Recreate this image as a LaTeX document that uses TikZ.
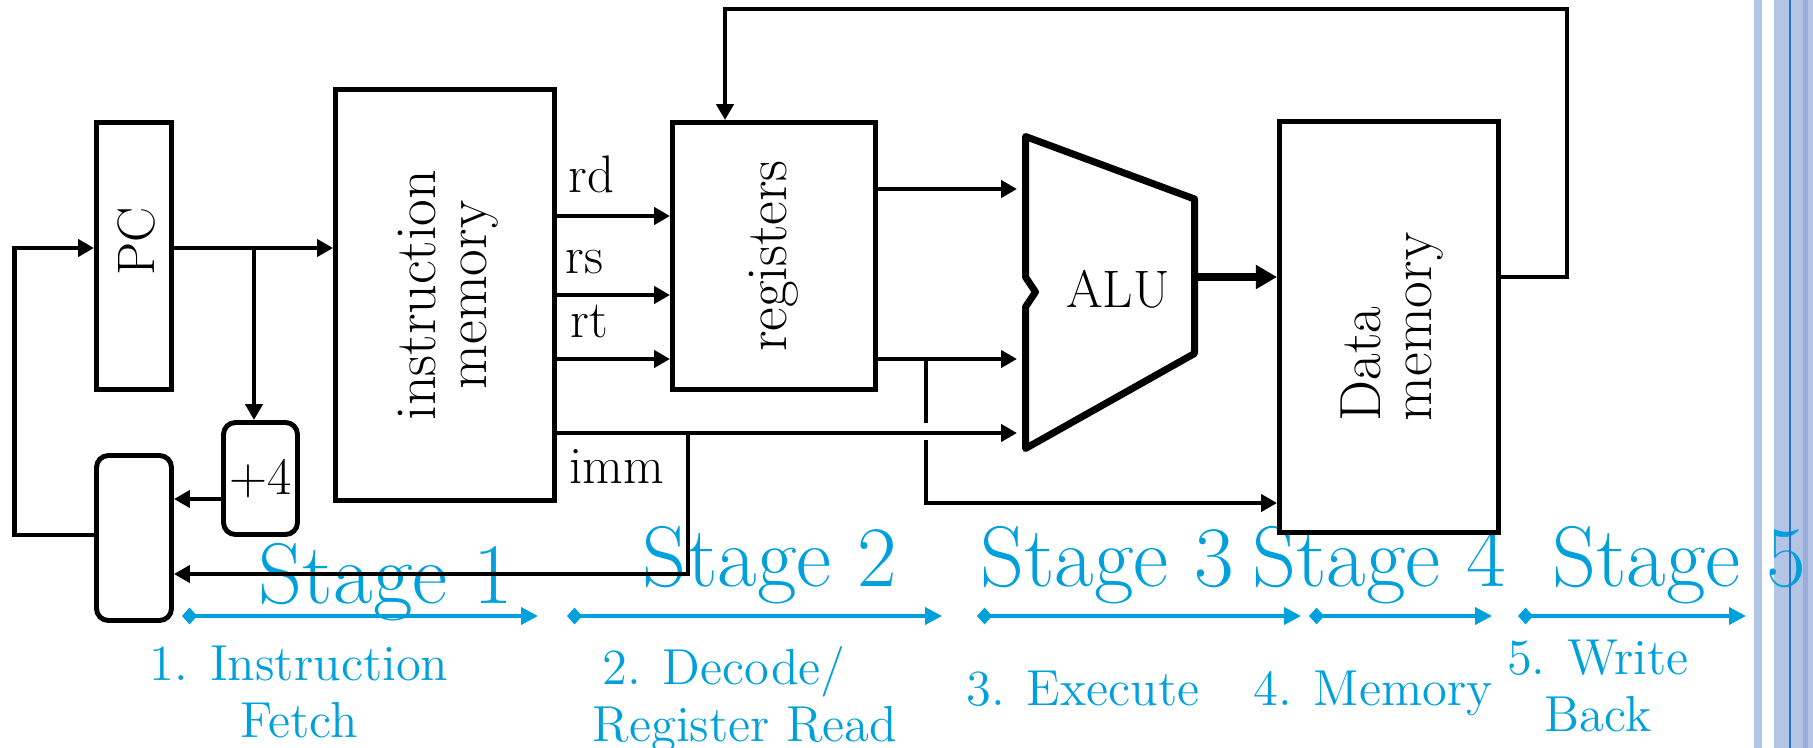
\documentclass[tikz,border=0pt]{standalone}
\usepackage{tikz}
\usetikzlibrary{arrows.meta,positioning,calc}
\definecolor{stagecolor}{RGB}{0,160,220}
\definecolor{stripecolor}{RGB}{180,196,228}
\definecolor{stripedark}{RGB}{152,174,220}
\definecolor{stripeline}{RGB}{40,112,210}

\begin{document}
\begin{tikzpicture}[x=1cm,y=-1cm,
    box/.style={draw,fill=white,line width=1.4pt,inner sep=0pt},
    rbox/.style={box,rounded corners=1.2mm},
    wire/.style={line width=1.4pt,-{Triangle[length=4.5pt,width=4.8pt]}},
    lbl/.style={font=\fontsize{15}{17}\selectfont},
    biglbl/.style={font=\fontsize{16.5}{14.5}\selectfont,rotate=90,align=center},
    stagetxt/.style={stagecolor,font=\fontsize{24.5}{28}\selectfont,anchor=base},
    stagearrow/.style={stagecolor,line width=1.1pt,
      {Diamond[length=4.3pt,width=4.8pt]}-{Triangle[length=4.8pt,width=4.8pt]}},
    desc/.style={stagecolor,font=\fontsize{14.4}{16.2}\selectfont,align=center,anchor=base}]
  \useasboundingbox (0,0) rectangle (18.13,7.48);
  % slide stripes
  \fill[stripecolor] (17.54,0) rectangle (17.62,7.48);
  \fill[stripecolor] (17.74,0) rectangle (18.13,7.48);
  \fill[stripedark] (18.03,0) rectangle (18.08,7.48);

  % stages
  \foreach \n/\x/\y in {1/3.86/6.03,2/7.70/5.86,3/11.07/5.86,4/13.79/5.86,5/16.79/5.86}
    \node[stagetxt] (stage\n) at (\x,\y) {Stage \n};
  \foreach \a/\b in {1.82/5.38,5.67/9.42,9.77/13.01,13.09/14.92,15.18/17.46}
    \draw[stagearrow] (\a,6.16) -- (\b,6.16);
  \node[desc] (fetch) at (2.99,7.37) {1. Instruction\\Fetch};
  \node[desc] (decode) at (7.45,7.41) {2. Decode/\hspace*{12pt}\\Register Read};
  \node[desc] (exec) at (10.83,7.05) {3. Execute};
  \node[desc] (mem) at (13.73,7.05) {4. Memory};
  \node[desc] (wback) at (15.98,7.31) {5. Write\\Back};

  % blocks
  \node[box,minimum width=0.75cm,minimum height=2.67cm] (pc) at (1.34,2.56) {};
  \node[box,minimum width=2.19cm,minimum height=4.11cm] (im) at (4.45,2.95) {};
  \node[box,minimum width=2.03cm,minimum height=2.67cm] (reg) at (7.74,2.56) {};
  \node[box,minimum width=2.19cm,minimum height=4.11cm] (dm) at (13.89,3.27) {};
  \node[rbox,minimum width=0.74cm,minimum height=1.12cm] (plus) at (2.605,4.785) {};
  \node[rbox,minimum width=0.75cm,minimum height=1.65cm] (mux) at (1.34,5.38) {};
  \coordinate (alutl) at (10.255,1.365);
  \coordinate (alutr) at (11.945,1.99);
  \coordinate (alubr) at (11.945,3.535);
  \coordinate (alubl) at (10.255,4.485);
  \coordinate (aluin) at (10.17,0);
  \draw[line width=2pt,line join=round,fill=white] (alutl) -- (alutr) -- (alubr) -- (alubl)
    -- (10.255,3.07) -- (10.355,2.92) -- (10.255,2.77) -- cycle;

  \node[lbl,rotate=90] (pclbl) at (1.365,2.415) {PC};
  \node[biglbl] (imlbl) at (4.48,2.95) {instruction\\memory};
  \node[biglbl] (reglbl) at (reg) {registers};
  \node[biglbl,align=left] (dmlbl) at (13.92,3.27) {Data\\memory};
  \node[lbl] (pluslbl) at (plus) {+4};
  \node[lbl] (alulbl) at (11.18,2.895) {ALU};
  \node[lbl,inner sep=0pt,anchor=base west] (rdlbl) at (5.68,1.93) {rd};
  \node[lbl,inner sep=0pt,anchor=base west] (rslbl) at (5.65,2.73) {rs};
  \node[lbl,inner sep=0pt,anchor=base west] (rtlbl) at (5.70,3.37) {rt};
  \node[lbl,inner sep=0pt,anchor=base west] (immlbl) at (5.69,4.83) {imm};

  % fetch
  \draw[wire] (mux.west |- 0,5.35) -- (0.145,5.35) |- (pc.west |- 0,2.48);
  \draw[wire] (pc.east |- 0,2.48) -- (im.west |- 0,2.48);
  \draw[wire] (2.54,2.48) -- (plus.north -| 2.54,0);
  \draw[wire] (plus.west |- 0,4.99) -- (mux.east |- 0,4.99);
  % decode
  \foreach \y in {2.16,2.95,3.59}
    \draw[wire] (im.east |- 0,\y) -- (reg.west |- 0,\y);
  \draw[wire] (reg.east |- 0,1.89) -- (aluin |- 0,1.89);
  \draw[wire] (reg.east |- 0,3.59) -- (aluin |- 0,3.59);
  \draw[wire] (im.east |- 0,4.33) -- (aluin |- 0,4.33);
  \draw[wire] (6.88,4.33) |- (mux.east |- 0,5.74);
  \draw[line width=1.4pt] (9.26,3.59) -- (9.26,4.23);
  \draw[wire] (9.26,4.40) |- (dm.west |- 0,5.03);
  % execute, memory, write back
  \draw[line width=2pt,-{Triangle[length=6pt,width=6.5pt]}] (alutr |- 0,2.77) -- (dm.west |- 0,2.77);
  \draw[wire] (dm.east |- 0,2.77) -| (15.67,0.09) -| (reg.north -| 7.25,0);

  \draw[stripeline,line width=0.5pt] (17.90,0) -- (17.90,7.48);
\end{tikzpicture}
\end{document}
